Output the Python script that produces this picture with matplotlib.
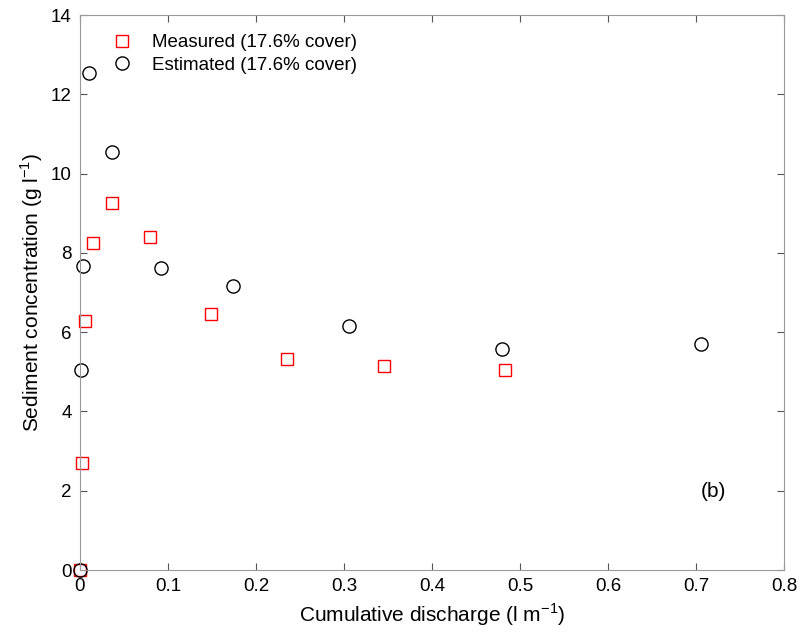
import numpy as np
import matplotlib
matplotlib.use("Agg")
import matplotlib.pyplot as plt

plt.rcParams['font.family'] = ['Liberation Sans', 'DejaVu Sans']
plt.rcParams['mathtext.fontset'] = 'custom'
plt.rcParams['mathtext.rm'] = 'Liberation Sans'

# measured (red squares)
meas_x = [0.0, 0.002, 0.006, 0.015, 0.037, 0.080, 0.149, 0.235, 0.345, 0.4835]
meas_y = [0.0, 2.70, 6.29, 8.26, 9.27, 8.41, 6.46, 5.33, 5.15, 5.05]

# estimated (black circles)
est_x = [0.0, 0.001, 0.003, 0.010, 0.036, 0.092, 0.174, 0.306, 0.480, 0.706]
est_y = [0.0, 5.05, 7.68, 12.53, 10.56, 7.63, 7.17, 6.16, 5.58, 5.71]

fig = plt.figure(figsize=(8.07, 6.33), dpi=100)
ax = fig.add_axes([0.099, 0.0995, 0.8725, 0.8765])

ax.plot(meas_x, meas_y, 's', mfc='none', mec='red', ms=8.5, mew=1.0,
        label='Measured (17.6% cover)', clip_on=False)
ax.plot(est_x, est_y, 'o', mfc='none', mec='black', ms=9.5, mew=1.0,
        label='Estimated (17.6% cover)', clip_on=False)

ax.set_xlim(0, 0.8)
ax.set_ylim(0, 14)
ax.set_xticks(np.arange(0, 0.81, 0.1))
ax.set_xticklabels(['0', '0.1', '0.2', '0.3', '0.4', '0.5', '0.6', '0.7', '0.8'])
ax.set_yticks(np.arange(0, 15, 2))

for s in ax.spines.values():
    s.set_color('#999999')
ax.tick_params(direction='in', top=True, right=True, color='#555555',
               length=5, labelsize=13.5, pad=6)

ax.set_xlabel('Cumulative discharge (l m$^{\\mathrm{-1}}$)', fontsize=15)
ax.set_ylabel('Sediment concentration (g l$^{\\mathrm{-1}}$)', fontsize=15)

ax.text(0.72, 1.97, '(b)', fontsize=15, ha='center', va='center')

ax.legend(loc='upper left', frameon=False, fontsize=13.5, handlelength=1.0,
          handletextpad=1.1, borderaxespad=0.6, labelspacing=0.3,
          bbox_to_anchor=(0.02, 1.0))

fig.savefig('out.png', dpi=100)
